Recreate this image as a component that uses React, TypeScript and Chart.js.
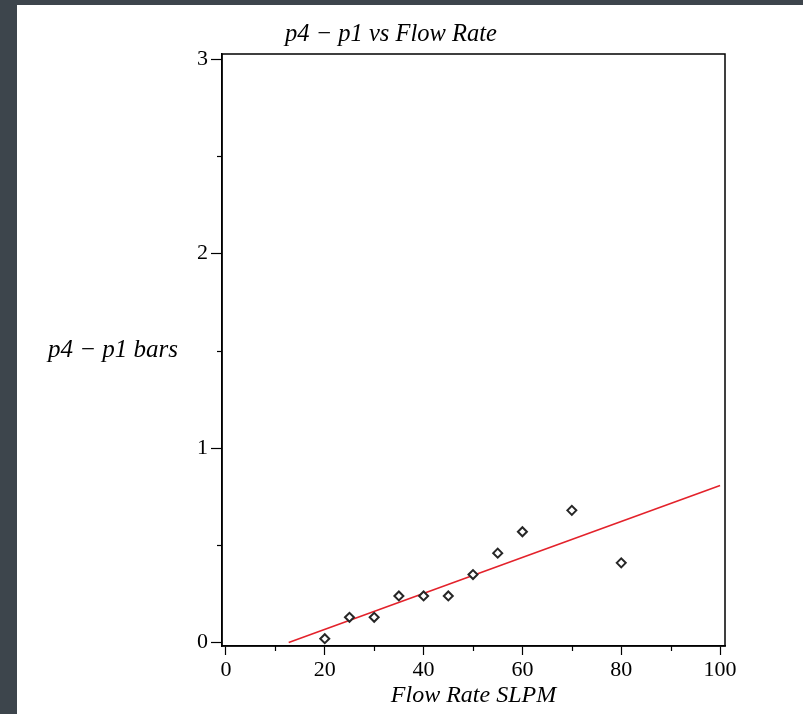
import React, { useEffect, useRef } from 'react';
import { Chart, registerables } from 'chart.js';

Chart.register(...registerables);

// ---- data ----
const flowRate = [20, 25, 30, 35, 40, 45, 50, 55, 60, 70, 80];
const pressureDiff = [0.02, 0.13, 0.13, 0.24, 0.24, 0.24, 0.35, 0.46, 0.57, 0.68, 0.41];
const fitX = [12.7, 100];
const fitY = [0, 0.808];
const xMajorTicks = [0, 20, 40, 60, 80, 100];
const yMajorTicks = [0, 1, 2, 3];
const titleText = 'p4 − p1 vs Flow Rate';
const yTitleText = 'p4 − p1 bars';
const xTitleText = 'Flow Rate SLPM';

const W = 803;
const H = 714;

const isMajorX = (v: number) => xMajorTicks.includes(v);
const isMajorY = (v: number) => yMajorTicks.includes(v);

const textPlugin = {
  id: 'frameAndTexts',
  afterDraw(chart: any) {
    const { ctx, chartArea: a } = chart;
    ctx.save();
    ctx.strokeStyle = '#000';
    ctx.lineWidth = 1.5;
    ctx.strokeRect(a.left, a.top, a.right - a.left, a.bottom - a.top);

    // minor ticks from the library's scales
    ctx.lineWidth = 1.2;
    const xs = chart.scales.x;
    xs.ticks.forEach((t: any) => {
      if (isMajorX(t.value)) return;
      const px = Math.round(xs.getPixelForValue(t.value)) + 0.5;
      ctx.beginPath();
      ctx.moveTo(px, a.bottom);
      ctx.lineTo(px, a.bottom + 5);
      ctx.stroke();
    });
    const ys = chart.scales.y;
    ys.ticks.forEach((t: any) => {
      if (isMajorY(t.value)) return;
      const py = Math.round(ys.getPixelForValue(t.value)) + 0.5;
      ctx.beginPath();
      ctx.moveTo(a.left, py);
      ctx.lineTo(a.left - 5, py);
      ctx.stroke();
    });

    ctx.fillStyle = '#000';
    ctx.textAlign = 'center';
    ctx.textBaseline = 'alphabetic';
    ctx.font = 'italic 24.5px "Liberation Serif"';
    ctx.fillText(titleText, 391, 41);
    ctx.font = 'italic 25px "Liberation Serif"';
    ctx.fillText(yTitleText, 113, 357);
    ctx.font = 'italic 24px "Liberation Serif"';
    ctx.fillText(xTitleText, (a.left + a.right) / 2, 702);
    ctx.restore();
  },
};

export default function App() {
  const ref = useRef<HTMLCanvasElement | null>(null);
  useEffect(() => {
    if (!ref.current) return;
    const chart = new Chart(ref.current, {
      type: 'scatter',
      data: {
        datasets: [
          {
            type: 'scatter',
            data: flowRate.map((x, i) => ({ x, y: pressureDiff[i] })),
            pointStyle: 'rectRot',
            pointRadius: 4.5,
            borderColor: '#262626',
            borderWidth: 2,
            backgroundColor: '#fff',
            order: 0,
          } as any,
          {
            type: 'line',
            data: fitX.map((x, i) => ({ x, y: fitY[i] })),
            borderColor: '#e3222b',
            borderWidth: 1.6,
            pointRadius: 0,
            fill: false,
            order: 1,
          } as any,
        ],
      },
      options: {
        responsive: false,
        animation: false,
        layout: { padding: { left: 0, top: 54, right: 78, bottom: 0 } },
        plugins: { legend: { display: false }, tooltip: { enabled: false }, title: { display: false } },
        scales: {
          x: {
            type: 'linear',
            min: -0.8,
            max: 101,
            afterFit: (s: any) => { s.height = 68; },
            ticks: {
              stepSize: 10,
              includeBounds: false,
              autoSkip: false,
              maxRotation: 0,
              padding: 2,
              color: '#000',
              font: { family: '"Liberation Serif"', size: 22 },
              callback: (v: any) => (isMajorX(Number(v)) ? String(v) : ''),
            },
            grid: {
              drawOnChartArea: false,
              tickLength: 9,
              tickWidth: 1.2,
              color: (c: any) => (c.tick && isMajorX(c.tick.value) ? '#000' : 'rgba(0,0,0,0)'),
            },
            border: { display: true, color: '#000', width: 1.5 },
          },
          y: {
            type: 'linear',
            min: -0.0175,
            max: 3.027,
            afterFit: (s: any) => { s.width = 222; },
            ticks: {
              stepSize: 0.5,
              includeBounds: false,
              autoSkip: false,
              padding: 3,
              color: '#000',
              font: { family: '"Liberation Serif"', size: 22 },
              callback: (v: any) => (isMajorY(Number(v)) ? String(v) : ''),
            },
            grid: {
              drawOnChartArea: false,
              tickLength: 11,
              tickWidth: 1.2,
              color: (c: any) => (c.tick && isMajorY(c.tick.value) ? '#000' : 'rgba(0,0,0,0)'),
            },
            border: { display: true, color: '#000', width: 1.5 },
          },
        },
      },
      plugins: [textPlugin],
    });
    return () => chart.destroy();
  }, []);

  return (
    <div style={{ position: 'fixed', left: 0, top: 0, width: W, height: H, background: '#3d454c', overflow: 'hidden' }}>
      <div style={{ position: 'absolute', left: 17, top: 5, right: 0, bottom: 0, background: '#fff' }} />
      <canvas ref={ref} width={W} height={H} style={{ position: 'absolute', left: 0, top: 0, width: W, height: H }} />
    </div>
  );
}
